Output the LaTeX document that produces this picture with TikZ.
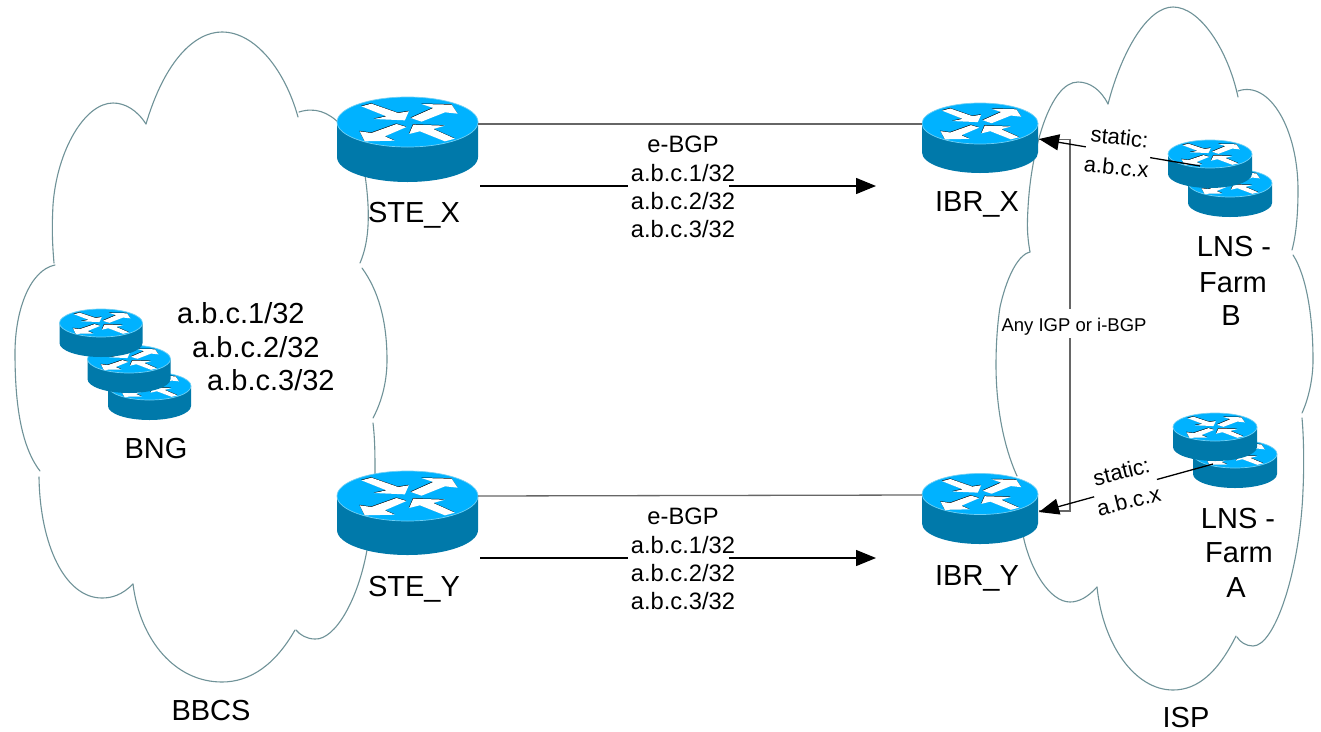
\documentclass[tikz,border=0pt]{standalone}
\usepackage{fontspec}
\setmainfont{Liberation Sans}
\usetikzlibrary{arrows.meta}
\definecolor{cloudc}{HTML}{6F9298}
\definecolor{rtopc}{HTML}{00B2FF}
\definecolor{rsidec}{HTML}{0079AA}
\definecolor{rrimc}{HTML}{6FD0F5}
\definecolor{linkc}{HTML}{666666}
\tikzset{
  cloudline/.style={draw=cloudc,line width=1.1pt,line cap=round},
  routernode/.style={inner sep=0pt,outer sep=0pt},
  glink/.style={draw=linkc,line width=1.3pt},
  blink/.style={draw=black,line width=1.3pt,-{Triangle[length=20pt,width=16pt]}},
  biglabel/.style={font=\fontsize{29}{34}\selectfont,inner sep=0pt,anchor=base},
  midlabel/.style={font=\fontsize{23.7}{28.4}\selectfont,inner sep=0pt,anchor=base},
  staticlabel/.style={font=\fontsize{22}{30}\selectfont,inner sep=0pt,fill=white,align=center},
}
\newcommand{\arrowglyphs}[1]{%
  \fill[#1] (-.654,-.627) -- (-.512,-.733) -- (-.133,-.36) -- (.019,-.427) -- (-.038,-.067) -- (-.474,-.12) -- (-.299,-.227) -- cycle;
  \fill[#1] (.047,-.16) -- (.365,-.56) -- (.199,-.72) -- (.626,-.693) -- (.711,-.333) -- (.531,-.387) -- (.199,-.013) -- cycle;
  \fill[#1] (-.014,.2) -- (-.156,.08) -- (-.512,.44) -- (-.678,.373) -- (-.607,.773) -- (-.18,.747) -- (-.322,.573) -- cycle;
  \fill[#1] (.673,.667) -- (.531,.773) -- (.175,.373) -- (.024,.48) -- (.081,.107) -- (.531,.147) -- (.365,.28) -- cycle;
}
% name, cx, cy, a, b, d
\newcommand{\netrouter}[6]{%
  \begin{scope}[shift={(#2,#3)}]
    \fill[rsidec] (-#4,0) -- (-#4,#6) arc[start angle=180,end angle=360,x radius=#4pt,y radius=#5pt] -- (#4,0) -- cycle;
    \filldraw[fill=rtopc,draw=rrimc,line width=.7pt] (0,0) ellipse[x radius=#4pt,y radius=#5pt];
    \begin{scope}[x=#4pt,y=-#5pt]
      \begin{scope}[yshift=.5pt,xshift=-.3pt]\arrowglyphs{black}\end{scope}
      \arrowglyphs{white}
    \end{scope}
    \node[routernode,minimum width=2*#4pt,minimum height=2*#5pt] (#1) at (0,0) {};
  \end{scope}}
\begin{document}
\begin{tikzpicture}[x=1pt,y=-1pt]
\useasboundingbox (0,0) rectangle (1321,731);
\fill[white] (0,0) rectangle (1321,731);

% BBCS cloud
\draw[cloudline] (146,124) .. controls (165,60) and (195,32) .. (222,32) .. controls (255,32) and (285,70) .. (298,117);
\draw[cloudline] (299,112) .. controls (315,107) and (328,112) .. (340,124);
\draw[cloudline] (365,175) .. controls (370,210) and (370,240) .. (360,263);
\draw[cloudline] (362,268) .. controls (378,290) and (387,320) .. (387,360) .. controls (387,385) and (380,405) .. (373,418);
\draw[cloudline] (373,423) .. controls (375,440) and (375,455) .. (375,475);
\draw[cloudline] (367,550) .. controls (358,600) and (335,640) .. (315,639) .. controls (307,639) and (300,635) .. (296,630);
\draw[cloudline] (295,630) .. controls (275,665) and (250,682) .. (222,682) .. controls (175,682) and (140,640) .. (133,584);
\draw[cloudline] (133,584) .. controls (122,595) and (112,598) .. (102,598) .. controls (65,598) and (40,545) .. (39,477);
\draw[cloudline] (40,471) .. controls (20,445) and (15,400) .. (15,353) .. controls (15,310) and (30,270) .. (55,265);
\draw[cloudline] (54,263) .. controls (52,240) and (52,225) .. (53,205) .. controls (57,150) and (85,103) .. (113,103) .. controls (125,103) and (137,110) .. (146,124);

% ISP cloud
\draw[cloudline] (1108,104) .. controls (1122,50) and (1148,7) .. (1173,7) .. controls (1200,7) and (1228,50) .. (1238,97);
\draw[cloudline] (1238,91) .. controls (1270,80) and (1298,130) .. (1298,190) .. controls (1298,215) and (1296,235) .. (1292,250);
\draw[cloudline] (1293,255) .. controls (1306,275) and (1313,315) .. (1313,360) .. controls (1313,380) and (1308,400) .. (1302,413);
\draw[cloudline] (1302,418) .. controls (1304,440) and (1304,470) .. (1303,490) .. controls (1300,570) and (1275,646) .. (1253,646) .. controls (1246,646) and (1240,642) .. (1237,637);
\draw[cloudline] (1236,636) .. controls (1218,672) and (1198,690) .. (1173,690) .. controls (1135,690) and (1103,645) .. (1097,587);
\draw[cloudline] (1097,587) .. controls (1088,597) and (1079,602) .. (1070,602) .. controls (1050,602) and (1030,570) .. (1023,535);
\draw[cloudline] (1017,476) .. controls (1003,445) and (996,405) .. (996,365) .. controls (996,340) and (998,320) .. (1000,307) .. controls (1006,280) and (1017,255) .. (1030,252);
\draw[cloudline] (1030,252) .. controls (1027,235) and (1027,225) .. (1028,208) .. controls (1031,150) and (1050,82) .. (1078,82) .. controls (1090,82) and (1101,90) .. (1108,104);

% routers
\netrouter{BNG3}{149.5}{386}{41.5}{14}{20}
\netrouter{BNG2}{129}{359}{41.5}{14}{20}
\netrouter{BNG1}{101}{323}{41.5}{14}{20}
\netrouter{STEX}{407.5}{122}{70.5}{25}{35}
\netrouter{STEY}{407.5}{496}{70.5}{25}{34}
\netrouter{IBRX}{980}{123.5}{58}{20.5}{29}
\netrouter{IBRY}{980}{494}{58}{20.5}{29.5}
\netrouter{FARMBb}{1230}{183}{42}{14}{20}
\netrouter{FARMBa}{1210}{154}{42}{14}{20}
\netrouter{FARMAb}{1235}{454}{42}{14}{20}
\netrouter{FARMAa}{1215}{427}{42}{14}{20}

% links
\draw[glink] ([yshift=-2pt]STEX.east) -- ([yshift=-.5pt]IBRX.west);
\draw[glink] (STEY.east) -- ([yshift=-1pt]IBRY.west);
\draw[glink] ([shift={(1,16)}]IBRX.east) -- ++(31,0) |- ([shift={(1,17)}]IBRY.east);

\coordinate (arrXs) at (480,186);
\coordinate (arrXe) at (876,186);
\coordinate (arrYs) at (480,558);
\coordinate (arrYe) at (876,558);
\coordinate (tailB) at (1200,166);
\coordinate (tailA) at (1213,464);
\draw[blink] (arrXs) -- (arrXe);
\draw[blink] (arrYs) -- (arrYe);
\draw[blink] (tailB) -- ([shift={(1,15.5)}]IBRX.east);
\draw[blink] (tailA) -- ([shift={(1,18)}]IBRY.east);
\fill[white] (628,178) rectangle (729,194);
\fill[white] (628,550) rectangle (729,566);

% labels
\node[biglabel] (lSTEX) at (414,222) {STE\_X};
\node[biglabel] (lSTEY) at (414,596) {STE\_Y};
\node[biglabel] (lIBRX) at (977,211) {IBR\_X};
\node[biglabel] (lIBRY) at (977,585) {IBR\_Y};
\node[biglabel] (lBNG) at (156,458) {BNG};
\node[biglabel] (lBBCS) at (211,720) {BBCS};
\node[biglabel] (lISP) at (1186,727) {ISP};
\node[biglabel,anchor=base west] (lnetA) at (177,323) {a.b.c.1/32};
\node[biglabel,anchor=base west] (lnetB) at (192,357) {a.b.c.2/32};
\node[biglabel,anchor=base west] (lnetC) at (207,390) {a.b.c.3/32};

\node[midlabel] (xa) at (683,152) {e-BGP};
\node[midlabel] (xb) at (683,181) {a.b.c.1/32};
\node[midlabel] (xc) at (683,209) {a.b.c.2/32};
\node[midlabel] (xd) at (683,237) {a.b.c.3/32};
\node[midlabel] (ya) at (683,524) {e-BGP};
\node[midlabel] (yb) at (683,553) {a.b.c.1/32};
\node[midlabel] (yc) at (683,581) {a.b.c.2/32};
\node[midlabel] (yd) at (683,609) {a.b.c.3/32};

\node[biglabel] (lnsB1) at (1234,256) {LNS -};
\node[biglabel] (lnsB2) at (1233,292) {Farm};
\node[biglabel] (lnsB3) at (1231,325) {B};
\node[biglabel] (lnsA1) at (1238,528) {LNS -};
\node[biglabel] (lnsA2) at (1239,562) {Farm};
\node[biglabel] (lnsA3) at (1236,597) {A};

\node[font=\fontsize{18.5}{22}\selectfont,fill=white,inner xsep=1pt,inner ysep=0pt,text height=23pt,text depth=6.5pt,anchor=base] (igp) at (1074,331.7) {Any IGP or i-BGP};
\node[staticlabel,rotate=-6] (stB) at (1118,152) {static:\\a.b.c.x};
\node[staticlabel,rotate=14] (stA) at (1125,486) {static:\\a.b.c.x};
\end{tikzpicture}
\end{document}
